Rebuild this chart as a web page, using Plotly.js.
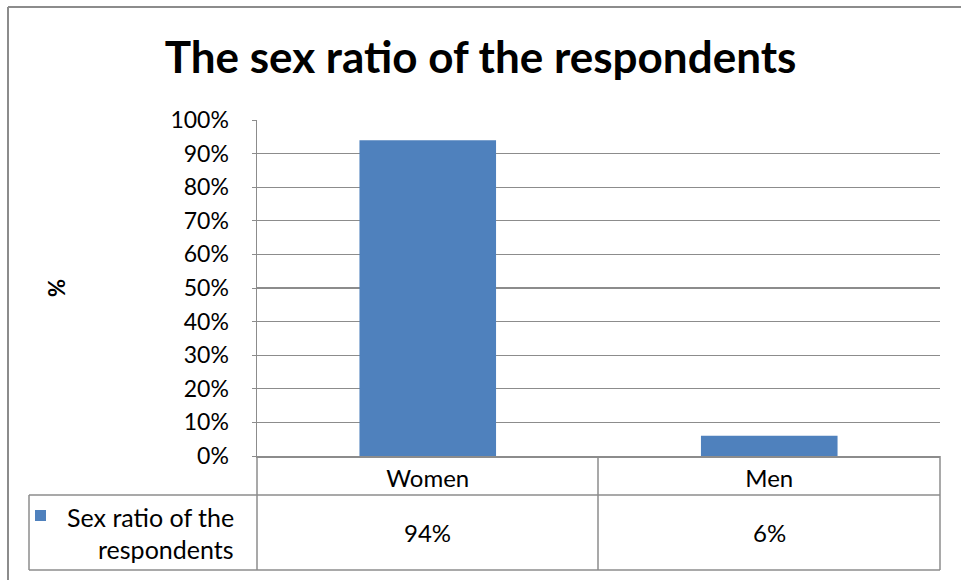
<!DOCTYPE html>
<html>
<head>
<meta charset="utf-8">
<script src="https://cdn.plot.ly/plotly-3.0.1.min.js"></script>
<style>html,body{margin:0;padding:0;background:#fff;}#chart{width:961px;height:580px;}</style>
</head>
<body>
<div id="chart"></div>
<script>
const categories = ['Women', 'Men'];
const values = [94, 6];
const seriesName = 'Sex ratio of the respondents';
const yTickValues = [0, 10, 20, 30, 40, 50, 60, 70, 80, 90, 100];
const chartTitle = 'The sex ratio of the respondents';
const yTitle = '%';

const W = 961, H = 580;
const L = 257, R = 940, T = 120, B = 456;
const px = x => (x - L) / (R - L);
const py = y => (B - y) / (B - T);
const gray = '#8c8c8c';
const font = 'Lato, "Open Sans", sans-serif';
const fs = 24;

function line(x0, y0, x1, y1, w) {
  return {type: 'line', xref: 'paper', yref: 'paper', x0: px(x0), y0: py(y0), x1: px(x1), y1: py(y1),
          line: {color: gray, width: w || 1.5}};
}

const shapes = [
  line(8, 7, 975, 7, 2),
  line(8, 7, 8, 600, 2),
  line(598, 456, 598, 570),
  line(940, 456, 940, 570),
  line(257, 456, 257, 570),
  line(29, 495, 940, 495),
  line(29, 495, 29, 570),
  line(29, 570, 940, 570),
  {type: 'rect', xref: 'paper', yref: 'paper', x0: px(35), x1: px(46), y0: py(521), y1: py(510),
   fillcolor: '#4F81BD', line: {width: 0}}
];

const legendParts = seriesName.replace(' respondents', '|respondents').split('|');
const annotations = [
  {xref: 'paper', yref: 'paper', x: px(150), y: py(517), text: legendParts[0], showarrow: false,
   font: {family: font, size: 25, color: '#000'}, xanchor: 'center', yanchor: 'middle'},
  {xref: 'paper', yref: 'paper', x: px(166), y: py(549), text: legendParts[1], showarrow: false,
   font: {family: font, size: 25, color: '#000'}, xanchor: 'center', yanchor: 'middle'}
];
categories.forEach((c, i) => {
  annotations.push({xref: 'x', yref: 'paper', x: c, y: py(532), text: values[i] + '%', showarrow: false,
    font: {family: font, size: fs, color: '#000'}, xanchor: 'center', yanchor: 'middle'});
});

const trace = {
  type: 'bar', x: categories, y: values, name: seriesName,
  marker: {color: '#4F81BD'}, hoverinfo: 'skip'
};

const layout = {
  width: W, height: H,
  margin: {l: L, r: W - R, t: T, b: H - B},
  paper_bgcolor: '#fff', plot_bgcolor: '#fff',
  showlegend: false,
  bargap: 0.6,
  font: {family: font, color: '#000'},
  title: {text: '<b>' + chartTitle + '</b>', font: {family: font, size: 44, color: '#000'},
          x: 0.5, xref: 'container', xanchor: 'center', y: 1 - 58 / H, yanchor: 'middle'},
  xaxis: {type: 'category', range: [-0.5, 1.5], showline: true, linecolor: gray, linewidth: 1.5,
          showgrid: false, ticks: '', tickfont: {family: font, size: fs, color: '#000'},
          ticklabelstandoff: 1, fixedrange: true},
  yaxis: {range: [0, 100], tickvals: yTickValues, ticktext: yTickValues.map(v => v + '%'),
          showgrid: true, gridcolor: gray, gridwidth: 1.2, showline: true, linecolor: gray, linewidth: 1.5,
          ticks: 'outside', ticklen: 4, tickcolor: gray, zeroline: false,
          tickfont: {family: font, size: 23, color: '#000'}, ticklabelstandoff: 18,
          title: {text: '<b>' + yTitle + '</b>', font: {family: font, size: 22, color: '#000'}, standoff: 98},
          fixedrange: true},
  shapes: shapes,
  annotations: annotations
};

Plotly.newPlot('chart', [trace], layout, {displayModeBar: false, staticPlot: true});
</script>
</body>
</html>
